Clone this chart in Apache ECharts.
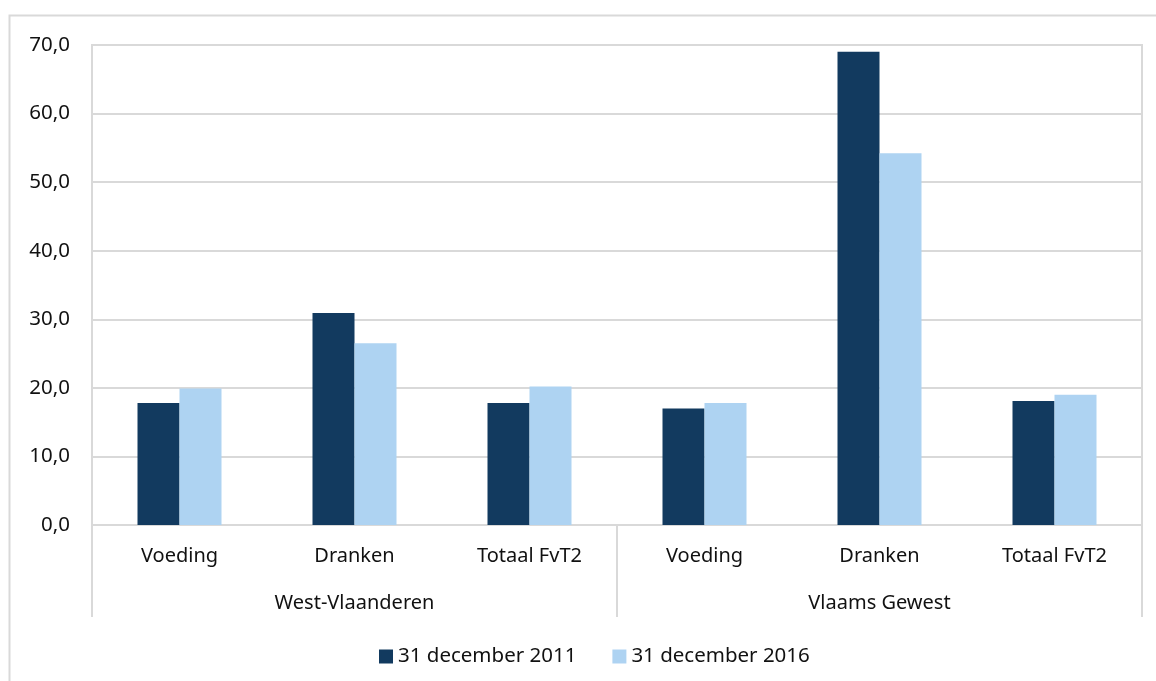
<!DOCTYPE html>
<html>
<head>
    <meta charset="utf-8">
    <title>Voeding en dranken</title>
    <script src="https://cdn.jsdelivr.net/npm/echarts@6/dist/echarts.min.js"></script>
    <style>
        html, body { margin: 0; padding: 0; background: #fff; }
        #main { width: 1156px; height: 681px; }
    </style>
</head>
<body>
<div id="main"></div>
<script type="text/javascript">
    // categorieen (onderste niveau) en groepen (bovenste niveau)
    var categories = ['Voeding', 'Dranken', 'Totaal FvT2', 'Voeding', 'Dranken', 'Totaal FvT2'];
    var groups = ['West-Vlaanderen', 'Vlaams Gewest'];
    var seriesNames = ['31 december 2011', '31 december 2016'];
    var values2011 = [17.8, 30.9, 17.8, 17.0, 69.0, 18.1];
    var values2016 = [19.9, 26.5, 20.2, 17.8, 54.2, 19.0];
    var yTicks = [0, 10, 20, 30, 40, 50, 60, 70];

    var font = '"Noto Sans", "DejaVu Sans", sans-serif';
    var gridColor = '#d9d9d9';
    var textColor = '#111';

    var myChart = echarts.init(document.getElementById('main'));
    var option = {
        animation: false,
        textStyle: { fontFamily: font },
        graphic: [{
            // kader rond de grafiek
            type: 'rect',
            shape: { x: 9.5, y: 15.5, width: 1300, height: 800 },
            style: { fill: 'none', stroke: gridColor, lineWidth: 2 },
            silent: true, z: -10
        }],
        legend: {
            data: seriesNames,
            left: 374,
            top: 641,
            itemWidth: 14,
            itemHeight: 14,
            itemGap: 36,
            icon: 'rect',
            textStyle: { fontSize: 20.5, color: textColor, fontFamily: font }
        },
        grid: {
            left: 92, right: 14, top: 45, bottom: 156,
            show: true, borderColor: gridColor, borderWidth: 2
        },
        xAxis: [{
            type: 'category',
            data: categories,
            position: 'bottom',
            axisLine: { lineStyle: { color: gridColor, width: 2 } },
            axisTick: { show: false },
            axisLabel: { fontSize: 20, color: textColor, margin: 21, interval: 0 }
        }, {
            type: 'category',
            data: groups,
            position: 'bottom',
            axisLine: { show: false },
            axisTick: { show: true, length: 92, lineStyle: { color: gridColor, width: 2 } },
            axisLabel: { fontSize: 20, color: textColor, margin: 68, interval: 0 }
        }],
        yAxis: {
            type: 'value',
            min: yTicks[0],
            max: yTicks[yTicks.length - 1],
            interval: 10,
            axisLine: { show: false },
            axisTick: { show: false },
            splitLine: { lineStyle: { color: gridColor, width: 2 } },
            axisLabel: {
                fontSize: 20.5, color: textColor, margin: 22,
                formatter: function (v) { return v.toFixed(1).replace('.', ','); }
            }
        },
        series: [{
            name: seriesNames[0],
            type: 'bar',
            xAxisIndex: 0,
            data: values2011,
            barWidth: 42,
            barGap: '0%',
            itemStyle: { color: '#123A5F' }
        }, {
            name: seriesNames[1],
            type: 'bar',
            xAxisIndex: 0,
            data: values2016,
            barWidth: 42,
            barGap: '0%',
            itemStyle: { color: '#AED3F2' }
        }]
    };
    myChart.setOption(option);
</script>
</body>
</html>
